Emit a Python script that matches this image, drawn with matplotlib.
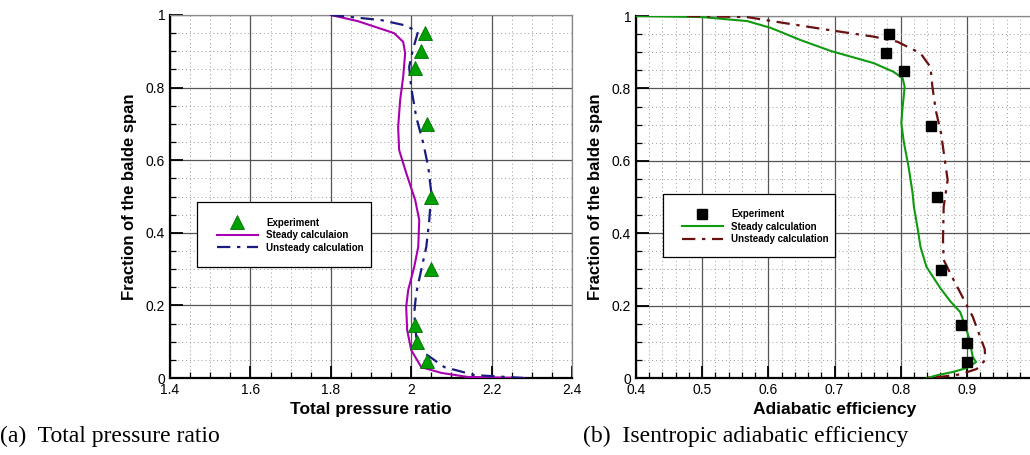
import matplotlib
matplotlib.use("Agg")
import matplotlib.pyplot as plt
from matplotlib.ticker import MultipleLocator
from matplotlib.patches import Rectangle

plt.rcParams['font.family'] = ['Liberation Sans', 'DejaVu Sans']

# ---- (a) total pressure ratio ----
exp_pr = [2.035, 2.025, 2.01, 2.04, 2.05, 2.05, 2.01, 2.015, 2.04]
exp_pr_span = [0.95, 0.90, 0.855, 0.70, 0.50, 0.30, 0.146, 0.10, 0.047]

steady_pr = [1.8, 1.8675, 1.9575, 1.98, 1.985, 1.98, 1.9725, 1.9675, 1.97, 1.9875,
             2.01, 2.02, 2.0175, 2.0075, 1.9925, 1.9875, 1.99, 2.0, 2.025, 2.075, 2.14, 2.28]
steady_pr_span = [1.0, 0.983, 0.95, 0.926, 0.895, 0.829, 0.766, 0.691, 0.628, 0.565,
                  0.49, 0.435, 0.361, 0.306, 0.242, 0.196, 0.132, 0.077, 0.03, 0.014, 0.003, 0.0]

unsteady_pr = [1.8, 1.925, 1.9825, 2.017, 2.004, 1.995, 2.0, 2.0125, 2.03, 2.0425,
               2.05, 2.045, 2.0375, 2.025, 2.0125, 2.0075, 2.0125, 2.0325, 2.0825, 2.1575, 2.28]
unsteady_pr_span = [1.0, 0.986, 0.972, 0.954, 0.904, 0.857, 0.80, 0.719, 0.647, 0.581,
                    0.51, 0.435, 0.361, 0.298, 0.234, 0.179, 0.113, 0.069, 0.03, 0.008, 0.0]

# ---- (b) adiabatic efficiency ----
exp_eff = [0.782, 0.778, 0.805, 0.846, 0.855, 0.861, 0.891, 0.90, 0.901]
exp_eff_span = [0.949, 0.897, 0.849, 0.697, 0.499, 0.298, 0.146, 0.098, 0.045]

steady_eff = [0.4, 0.5, 0.568, 0.604, 0.648, 0.695, 0.759, 0.789, 0.803, 0.806, 0.803, 0.801,
              0.805, 0.812, 0.818, 0.82, 0.826, 0.83, 0.839, 0.86, 0.875, 0.89, 0.898, 0.903,
              0.906, 0.909, 0.914, 0.90, 0.88, 0.856, 0.84]
steady_eff_span = [1.0, 0.997, 0.986, 0.967, 0.934, 0.903, 0.870, 0.846, 0.828, 0.804, 0.749, 0.704,
                   0.649, 0.583, 0.511, 0.473, 0.409, 0.362, 0.307, 0.248, 0.212, 0.182, 0.141, 0.113,
                   0.086, 0.058, 0.044, 0.028, 0.017, 0.008, 0.0]

unsteady_eff = [0.477, 0.568, 0.633, 0.70, 0.759, 0.795, 0.83, 0.845, 0.848, 0.853, 0.861, 0.871,
                0.865, 0.864, 0.865, 0.88, 0.896, 0.909, 0.918, 0.927, 0.928, 0.915, 0.89, 0.86, 0.84]
unsteady_eff_span = [1.0, 0.997, 0.978, 0.959, 0.943, 0.929, 0.897, 0.859, 0.804, 0.740, 0.676, 0.547,
                     0.473, 0.381, 0.326, 0.271, 0.215, 0.169, 0.124, 0.08, 0.05, 0.025, 0.01, 0.003, 0.0]


def tickLabel(v, p, vmax):
    if v > vmax + 1e-9:
        return ''
    return '%g' % round(v, 2)


def styleAxes(ax, xmajor, xminor, xlabmax):
    ax.set_ylim(0, 1)
    ax.xaxis.set_major_locator(MultipleLocator(xmajor))
    ax.xaxis.set_minor_locator(MultipleLocator(xminor))
    ax.yaxis.set_major_locator(MultipleLocator(0.2))
    ax.yaxis.set_minor_locator(MultipleLocator(0.05))
    ax.grid(which='major', color='#555555', lw=0.9, ls='-')
    ax.grid(which='minor', color='#999999', lw=0.7, ls=(0, (1, 3)))
    ax.set_axisbelow(True)
    ax.tick_params(which='major', direction='in', length=9, width=1.3, labelsize=10)
    ax.tick_params(which='minor', direction='in', length=4, width=0.9)
    for s in ['left', 'bottom']:
        ax.spines[s].set_linewidth(1.6)
    for s in ['top', 'right']:
        ax.spines[s].set_color('#888888')
        ax.spines[s].set_linewidth(0.9)
    ax.yaxis.set_major_formatter(plt.FuncFormatter(lambda v, p: tickLabel(v, p, 1.0)))
    ax.xaxis.set_major_formatter(plt.FuncFormatter(lambda v, p: tickLabel(v, p, xlabmax)))
    ax.set_ylabel('Fraction of the balde span', fontsize=12, fontweight='bold', labelpad=6)


def drawLegend(ax, box, anchor, handles, labels):
    rect = Rectangle((box[0], box[1]), box[2], box[3], transform=ax.transAxes,
                     facecolor='white', edgecolor='black', lw=0.9, zorder=5)
    ax.add_patch(rect)
    leg = ax.legend(handles, labels, loc='upper left', bbox_to_anchor=anchor, frameon=False,
                    borderpad=0, handlelength=4.2, handletextpad=0.9, labelspacing=0.25,
                    prop={'size': 7, 'weight': 'bold'})
    leg.set_zorder(6)


fig = plt.figure(figsize=(10.3, 4.55), dpi=100)

# (a)
ax1 = fig.add_axes([170 / 1030, 1 - 378 / 455, 402 / 1030, 363 / 455])
h1, = ax1.plot(exp_pr, exp_pr_span, ls='none', marker='^', ms=9.5, color='#00A000',
               mec='#007000', mew=0.6, zorder=4)
h2, = ax1.plot(steady_pr, steady_pr_span, color='#A800B0', lw=1.5, zorder=3)
h3, = ax1.plot(unsteady_pr, unsteady_pr_span, color='#1A1A80', lw=1.6,
               ls=(0, (6, 3, 1.5, 3)), zorder=3)
ax1.set_xlim(1.4, 2.4)
styleAxes(ax1, 0.2, 0.05, 2.4)
ax1.set_xlabel('Total pressure ratio', fontsize=12.5, fontweight='bold', labelpad=4)
drawLegend(ax1, (0.067, 0.306, 0.433, 0.179), (0.104, 0.455),
           [h1, h2, h3], ['Experiment', 'Steady calculaion', 'Unsteady calculation'])

# (b)
ax2 = fig.add_axes([636 / 1030, 1 - 378 / 455, 397 / 1030, 362 / 455])
g1, = ax2.plot(exp_eff, exp_eff_span, ls='none', marker='s', ms=7, color='black', zorder=4)
g2, = ax2.plot(steady_eff, steady_eff_span, color='#109A10', lw=1.5, zorder=3)
g3, = ax2.plot(unsteady_eff, unsteady_eff_span, color='#6A1010', lw=1.6,
               ls=(0, (6, 3, 1.5, 3)), zorder=3)
ax2.set_xlim(0.4, 1.0)
styleAxes(ax2, 0.1, 0.02, 0.9)
ax2.set_xlabel('Adiabatic efficiency', fontsize=12.5, fontweight='bold', labelpad=4)
drawLegend(ax2, (0.068, 0.334, 0.433, 0.174), (0.103, 0.48),
           [g1, g2, g3], ['Experiment', 'Steady calculation', 'Unsteady calculation'])

fig.text(0.0, 1 - 436 / 455, '(a)  Total pressure ratio', fontsize=17,
         family=['Liberation Serif', 'DejaVu Serif'], va='center', ha='left')
fig.text(583 / 1030, 1 - 436 / 455, '(b)  Isentropic adiabatic efficiency', fontsize=17,
         family=['Liberation Serif', 'DejaVu Serif'], va='center', ha='left')

fig.savefig('out.png', dpi=100)
